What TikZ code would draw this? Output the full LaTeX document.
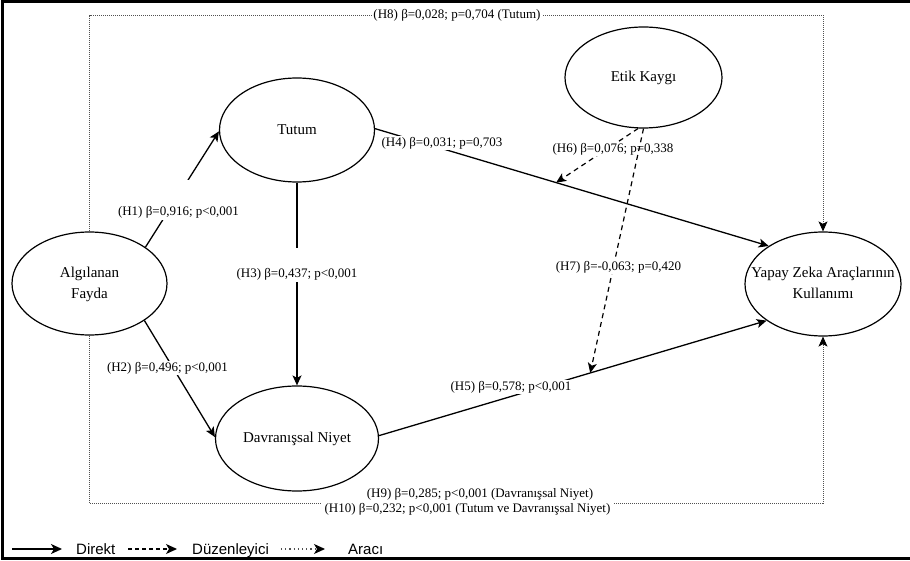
\documentclass[tikz,border=0pt]{standalone}
\usepackage{fontspec}
\setmainfont{Liberation Serif}
\setsansfont{Liberation Sans}
\usetikzlibrary{arrows.meta,shapes.geometric,calc}
\definecolor{dotgray}{RGB}{80,80,80}
\newcommand{\twoline}[2]{\makebox[0pt]{\begin{tabular}{@{}c@{}}#1\\#2\end{tabular}}}
\begin{document}
\begin{tikzpicture}[x=1pt,y=-1pt,
  ell/.style={ellipse, draw, line width=1.2pt, inner sep=0pt, font=\fontsize{15}{21}\selectfont},
  lab/.style={fill=white, inner xsep=1pt, inner ysep=1pt, font=\fontsize{13}{15}\selectfont},
  tipx/.style={-{Stealth[length=10pt,width=9pt,inset=2.5pt]}},
  direct/.style={tipx, line width=1.3pt},
  moder/.style={tipx, line width=1.2pt, dash pattern=on 5pt off 4pt},
  medi/.style={-{Stealth[length=10pt,width=9pt,inset=2.5pt,color=black]}, line width=0.9pt, draw=dotgray, dash pattern=on 1pt off 1pt},
  leg/.style={font=\sffamily\fontsize{15}{18}\selectfont, inner sep=0pt, anchor=base west}]
\useasboundingbox (0,0) rectangle (910,561);
% outer frame
\draw[line width=3pt] (910,2) -- (2,2) -- (2,558.5) -- (910,558.5);
% constructs
\node[ell, minimum width=155pt, minimum height=104pt] (tut) at (297,130) {Tutum};
\node[ell, minimum width=155pt, minimum height=103pt] (alg) at (89.5,283.5) {\twoline{Algılanan}{Fayda}};
\node[ell, minimum width=163pt, minimum height=105pt] (dav) at (297,438.5) {Davranışsal Niyet};
\node[ell, minimum width=157pt, minimum height=101pt] (etk) at (643.5,77.5) {Etik Kaygı};
\node[ell, minimum width=156pt, minimum height=104pt] (yap) at (823,284) {\twoline{Yapay Zeka Araçlarının}{Kullanımı}};
% helper coordinates
\coordinate (tl) at (89.5,15);
\coordinate (tr) at (823,15);
\coordinate (bl) at (89.5,503);
\coordinate (br) at (823,503);
\coordinate (h6e) at ($(tut.1)!0.46!(yap.145)$);
\coordinate (h7e) at ($(dav.2)!0.545!(yap.213)$);
% mediation frame
\draw[medi] (alg.north) -- (tl) -- (tr) -- (yap.north);
\draw[medi] (alg.south) -- (bl) -- (br) -- (yap.south);
% direct paths
\draw[direct] (alg.33) -- (tut.181);
\draw[direct] (alg.-34) -- (dav.179);
\draw[direct] (tut.south) -- (dav.north);
\draw[direct] (tut.1) -- (yap.145);
\draw[direct] (dav.2) -- (yap.213);
% moderator H6
\draw[moder] (etk.264) -- (h6e);
% labels
\node[lab, anchor=base, text height=34pt, text depth=4pt] (h1) at (178.5,215.5) {(H1) β=0,916; p<0,001};
\node[lab] (h2) at (167.5,368) {(H2) β=0,496; p<0,001};
\node[lab, anchor=base, text height=28.5pt, text depth=4pt] (h3) at (297,277.5) {(H3) β=0,437; p<0,001};
\node[lab] (h4) at (442,143) {(H4) β=0,031; p=0,703};
\node[lab] (h5) at (511,387) {(H5) β=0,578; p<0,001};
\node[lab] (h6) at (613,149) {(H6) β=0,076; p=0,338};
\node[lab] (h8) at (457,15) {(H8) β=0,028; p=0,704 (Tutum)};
\node[lab, inner xsep=3pt] (h9) at (480,494) {(H9) β=0,285; p<0,001 (Davranışsal Niyet)};
\node[lab, inner xsep=3pt, inner ysep=3pt] (h10) at (467.5,509) {(H10) β=0,232; p<0,001 (Tutum ve Davranışsal Niyet)};
% moderator H7
\draw[moder] (etk.270) -- (h7e);
\node[lab] (h7) at (618.5,267) {(H7) β=-0,063; p=0,420};
% legend
\coordinate (s1) at (12,549);
\coordinate (e1) at (62,549);
\coordinate (s2) at (128,549);
\coordinate (e2) at (177,549);
\coordinate (s3) at (281,549);
\coordinate (e3) at (325,549);
\draw[direct, line width=1.5pt, -{Stealth[length=11pt,width=10pt,inset=3pt]}] (s1) -- (e1);
\draw[moder, dash pattern=on 4pt off 3pt, -{Stealth[length=11pt,width=10pt,inset=3pt]}] (s2) -- (e2);
\draw[medi, line width=1.2pt, dash pattern=on 1.2pt off 3pt, -{Stealth[length=11pt,width=10pt,inset=3pt,color=black]}] (s3) -- (e3);
\node[leg] (l1) at (76,554.5) {Direkt};
\node[leg] (l2) at (192,554.5) {Düzenleyici};
\node[leg] (l3) at (348,554.5) {Aracı};
\end{tikzpicture}
\end{document}
